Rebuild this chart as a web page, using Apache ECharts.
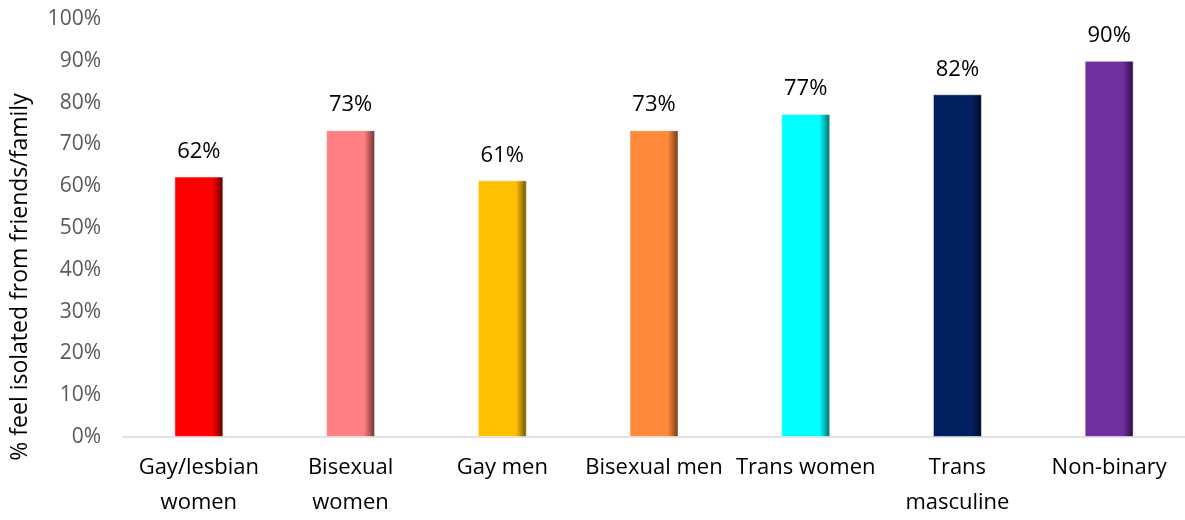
<!DOCTYPE html>
<html><head><meta charset="utf-8">
<script src="https://cdn.jsdelivr.net/npm/echarts@6/dist/echarts.min.js"></script>
<style>html,body{margin:0;padding:0;background:#fff}#c{width:1185px;height:520px}</style>
</head><body><div id="c"></div>
<script>
const categories = ["Gay/lesbian\nwomen","Bisexual\nwomen","Gay men","Bisexual men","Trans women","Trans\nmasculine","Non-binary"];
const values = [62.3, 73.4, 61.4, 73.4, 77.3, 82.0, 90.0];
const colors = ["#FF0000","#FF7F82","#FFC000","#FF8A3A","#00FFFF","#002060","#7030A0"];
const darks = ["#5a0000","#6e3033","#6b5000","#6e3a10","#006a6a","#000a20","#2a0a40"];
const yTitle = "% feel isolated from friends/family";
const FONT = "'Open Sans', 'Noto Sans', sans-serif";

const chart = echarts.init(document.getElementById('c'));
chart.setOption({
  animation:false,
  grid:{left:123, top:19, width:1069, bottom:80},
  xAxis:{type:'category', data:categories,
    axisLine:{lineStyle:{color:'#D9D9D9', width:1.5}}, axisTick:{show:false},
    axisLabel:{color:'#000', fontSize:22, fontFamily:FONT, lineHeight:35, margin:13, interval:0}},
  yAxis:{type:'value', min:0, max:100, interval:10,
    axisLine:{show:false}, axisTick:{show:false}, splitLine:{show:false},
    axisLabel:{color:'#595959', fontSize:21, fontFamily:FONT, margin:22, formatter:v=>v+'%'}},
  graphic:[{type:'text', x:20, y:277, rotation:Math.PI/2,
    style:{text:yTitle, fill:'#000', font:"23px 'Open Sans', sans-serif", textAlign:'center', textVerticalAlign:'middle'}}],
  series:[{type:'bar', barWidth:49,
    data: values.map((v,i)=>({value:v, itemStyle:{
      color:new echarts.graphic.LinearGradient(0,0,1,0,[
        {offset:0,color:colors[i]},{offset:0.78,color:colors[i]},{offset:1,color:darks[i]}]),
      borderColor:'rgba(255,255,255,0.5)', borderWidth:1}})),
    label:{show:true, position:'top', distance:14, color:'#000', fontSize:22, fontFamily:FONT,
      formatter:p=>Math.round(p.value)+'%'}
  }]
});
</script></body></html>
